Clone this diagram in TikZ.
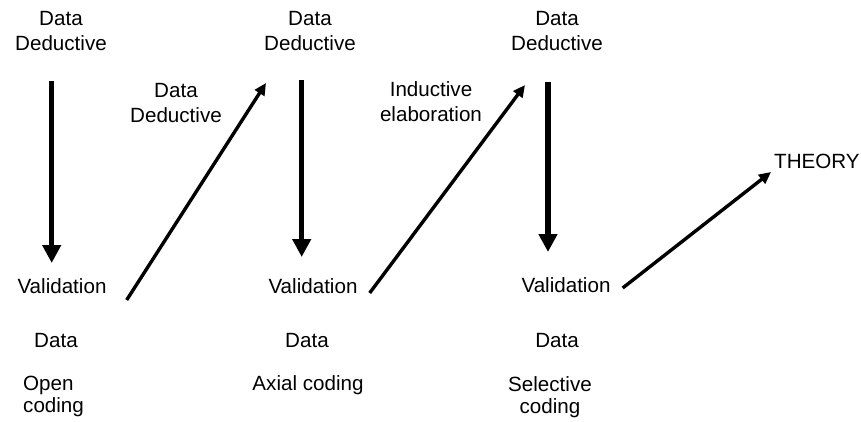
\documentclass[tikz,border=0pt]{standalone}
\usepackage{fontspec}
\setmainfont{Liberation Sans}
\usetikzlibrary{arrows.meta,calc}

\begin{document}
\begin{tikzpicture}[x=1pt,y=-1pt,
  word/.style={inner sep=0pt,anchor=base,align=center,font=\fontsize{20.6}{24.5}\selectfont},
  tight/.style={font=\fontsize{20.6}{22}\selectfont},
  drop/.style={line width=5.5pt,-{Triangle[length=18pt,width=18pt]}},
  lift/.style={line width=3.4pt,-{Triangle[length=12pt,width=11pt]}}
]
  \useasboundingbox (0,0) rectangle (861,421);
  % top row
  \node[word] (top1) at (61,50) {Data\\Deductive};
  \node[word] (top2) at (310,50) {Data\\Deductive};
  \node[word] (top3) at (557,50) {Data\\Deductive};
  \node[word] (deduce) at (176,122) {Data\\Deductive};
  \node[word] (induce) at (431,121) {Inductive\\elaboration};
  \node[word,anchor=base west] (theory) at (774,168) {THEORY};
  % validation row
  \node[word] (val1) at (62,293) {Validation};
  \node[word] (val2) at (313,293) {Validation};
  \node[word] (val3) at (566,292) {Validation};
  % data and coding stages
  \node[word] (data1) at (56,347) {Data};
  \node[word] (data2) at (307,347) {Data};
  \node[word] (data3) at (557,347) {Data};
  \node[word,tight,align=left,anchor=base west] (open) at (23,412) {Open\\coding};
  \node[word] (axial) at (308,390) {Axial coding};
  \node[word,tight] (select) at (550,413) {Selective\\coding};
  % downward arrows
  \draw[drop] ($(top1.base)+(-9.3,31)$) -- ($(val1.base)+(-10.3,-30)$);
  \draw[drop] ($(top2.base)+(-8.3,30)$) -- ($(val2.base)+(-11.3,-36)$);
  \draw[drop] ($(top3.base)+(-9,32)$) -- ($(val3.base)+(-18,-40)$);
  % upward arrows
  \draw[lift] ($(val1.base east)+(20,7)$) -- ($(top2.base)+(-44,33)$);
  \draw[lift] ($(val2.base east)+(12,0)$) -- ($(top3.base)+(-32,35)$);
  \draw[lift] ($(val3.base east)+(12,-4)$) -- ($(theory.base west)+(-3,4)$);
\end{tikzpicture}
\end{document}
